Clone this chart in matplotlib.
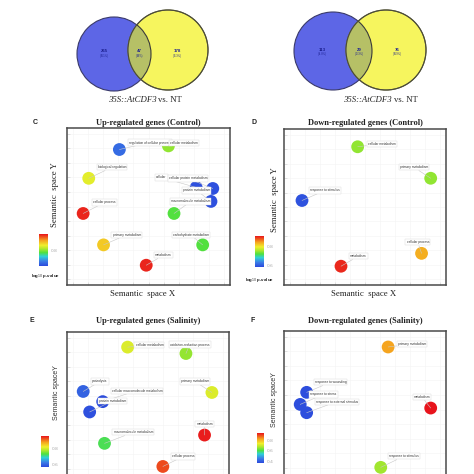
"""Venn diagrams and REVIGO-style semantic-space plots, rebuilt from values read off the figure."""

import matplotlib
matplotlib.use("Agg")
import matplotlib.pyplot as plt  # noqa: E402
from matplotlib.colors import LinearSegmentedColormap, Normalize  # noqa: E402
from matplotlib.cm import ScalarMappable  # noqa: E402
from matplotlib.patches import Circle  # noqa: E402

DPI = 100
W = H = 474

# Venn counts (only, shared, only)
VENN_LEFT = [265, 47, 178]
VENN_RIGHT = [113, 29, 76]

# panel C: Up-regulated genes (Control)
C_TERMS = ["regulation of cellular process", "cellular metabolism", "biological regulation",
           "cellular", "cellular protein metabolism", "protein metabolism",
           "macromolecule metabolism", "cellular process", "primary metabolism",
           "carbohydrate metabolism", "metabolism"]
C_X = [3.07, 6.32, 1.04, 8.16, 9.26, 9.14, 6.69, 0.67, 2.02, 8.59, 4.85]
C_Y = [8.92, 9.17, 6.94, 6.31, 6.24, 5.35, 4.52, 4.52, 2.36, 2.36, 0.96]
C_P = [0.64, 0.80, 0.85, 0.61, 0.61, 0.61, 0.77, 0.99, 0.89, 0.77, 0.99]

# panel D: Down-regulated genes (Control)
D_TERMS = ["cellular metabolism", "primary metabolism", "response to stimulus",
           "cellular process", "metabolism"]
D_X = [4.51, 9.38, 0.80, 8.77, 3.40]
D_Y = [9.17, 6.99, 5.45, 1.79, 0.90]
D_P = [0.75, 0.75, 0.59, 0.845, 0.91]

# panel E: Up-regulated genes (Salinity)
E_TERMS = ["cellular metabolism", "oxidation-reduction process", "proteolysis",
           "primary metabolism", "cellular macromolecule metabolism", "protein metabolism",
           "metabolism", "macromolecule metabolism", "cellular process"]
E_X = [3.64, 7.53, 0.68, 9.26, 1.98, 1.11, 8.77, 2.10, 5.99]
E_Y = [9.36, 8.92, 6.31, 6.24, 5.61, 4.90, 3.31, 2.74, 1.15]
E_P = [0.81, 0.77, 0.605, 0.81, 0.58, 0.585, 0.955, 0.73, 0.93]

# panel F: Down-regulated genes (Salinity)
F_TERMS = ["primary metabolism", "response to wounding", "response to stress",
           "response to external stimulus", "metabolism", "response to stimulus"]
F_X = [6.54, 1.11, 0.68, 1.11, 9.38, 6.05]
F_Y = [9.30, 6.18, 5.35, 4.78, 5.10, 1.02]
F_P = [0.82, 0.39, 0.39, 0.39, 0.93, 0.666]

# label offsets (pixels) from bubble centre to the left/centre of the label box
C_OFF = [(10, 7), (2, 3), (9, 11), (-40, 10), (-44, 10), (-28, 11), (-3, 12),
         (10, 11), (9, 10), (-30, 10), (9, 10)]
D_OFF = [(10, 3), (-31, 11), (8, 10), (-15, 11), (9, 10)]
E_OFF = [(8, 2), (-16, 9), (9, 10), (-31, 11), (9, 11), (9, 11), (-8, 11), (9, 11), (9, 10)]
F_OFF = [(10, 3), (8, 10), (10, 10), (9, 11), (-17, 11), (8, 11)]

CMAP = LinearSegmentedColormap.from_list("revigo", [
    (0.0, "#2b48dc"), (0.15, "#3b7de6"), (0.3, "#2fd0d8"), (0.42, "#4fe040"),
    (0.55, "#b8e82a"), (0.65, "#f0ee2c"), (0.8, "#f5a41e"), (1.0, "#e8141c")])

SERIF = "Liberation Serif"
SANS = "Liberation Sans"


def px_axes(fig, left, top, right, bottom):
    return fig.add_axes([left / W, 1 - bottom / H, (right - left) / W, (bottom - top) / H])


def venn(fig, box, counts, circ_a, circ_b, caption_x):
    ax = px_axes(fig, *box)
    l, t, r, b = box
    ax.set_xlim(l, r)
    ax.set_ylim(b, t)
    ax.set_aspect("equal")
    ax.axis("off")
    total = sum(counts)
    (ax_, ay, ar), (bx, by, br) = circ_a, circ_b
    ax.add_patch(Circle((ax_, ay), ar, facecolor="#5d66e6", edgecolor="#3a3a6a", lw=0.8))
    ax.add_patch(Circle((bx, by), br, facecolor="#f6f55e", edgecolor="#6a6a3a", lw=0.8))
    # overlap region: blue circle clipped by yellow circle
    ov = Circle((ax_, ay), ar, facecolor="#b6c066", edgecolor="#3a3a3a", lw=0.8)
    ax.add_patch(ov)
    ov.set_clip_path(Circle((bx, by), br, transform=ax.transData))
    ax.add_patch(Circle((bx, by), br, facecolor="none", edgecolor="#4a4a3a", lw=0.8))
    xs = [(ax_ - ar + bx - br) / 2 + 2, (ax_ + ar + bx - br) / 2, (ax_ + ar + bx + br) / 2 - 2]
    ymid = (ay + by) / 2 + 1
    for x, n in zip(xs, counts):
        ax.text(x, ymid - 1.5, str(n), ha="center", va="center", fontsize=3.2,
                fontweight="bold", color="#1c2090", family=SANS)
        ax.text(x, ymid + 2.5, f"({100 * n / total:.1f}%)", ha="center", va="center",
                fontsize=1.8, color="#1c2090", family=SANS)
    ax.text(caption_x, 100, "35S::AtCDF3", ha="right", va="center", fontsize=6.3,
            style="italic", family=SERIF, color="#222")
    ax.text(caption_x + 1.5, 100, "vs. NT", ha="left", va="center", fontsize=6.3,
            family=SERIF, color="#222")


def semantic(fig, box, letter, title, terms, xs, ys, ps, offs, norm, ticks, cbox,
             ylabel, ylabel_sans, ylab_xy, xlab_xy, letter_xy, title_y, legend_xy):
    ax = px_axes(fig, *box)
    ax.set_xlim(-0.4, 10.4)
    ax.set_ylim(-0.4, 10.4)
    for s in ax.spines.values():
        s.set_color("#4a4a4a")
        s.set_linewidth(1.1)
    ax.set_xticks(range(0, 11))
    ax.set_yticks(range(0, 11))
    ax.tick_params(direction="in", length=2, color="#d6d6d6", labelbottom=False,
                   labelleft=False, width=0.5)
    ax.grid(True, color="#f4f4f4", lw=0.4)
    ax.set_axisbelow(True)
    ax.scatter(xs, ys, s=85, c=ps, cmap=CMAP, norm=norm, edgecolors="none", zorder=3)
    for t, x, y, (dx, dy) in zip(terms, xs, ys, offs):
        ax.annotate(t, (x, y), xytext=(dx, dy), textcoords="offset pixels",
                    ha="left", va="center", fontsize=2.3, family=SANS, color="#333",
                    bbox=dict(boxstyle="square,pad=0.35", fc="white", ec="#d8d8d8", lw=0.3),
                    arrowprops=dict(arrowstyle="-", color="#c8c8c8", lw=0.4,
                                    shrinkA=0, shrinkB=0), zorder=5)
    cx = (box[0] + box[2]) / 2
    fig.text(cx / W, 1 - title_y / H, title, ha="center", va="center", fontsize=6,
             fontweight="bold", family=SERIF, color="#222")
    fig.text(letter_xy[0] / W, 1 - letter_xy[1] / H, letter, ha="center", va="center",
             fontsize=5, fontweight="bold", family=SANS, color="#222")
    if ylabel_sans:
        fig.text(ylab_xy[0] / W, 1 - ylab_xy[1] / H, ylabel, rotation=90, ha="center",
                 va="center", fontsize=5, family=SANS, color="#333")
    else:
        fig.text(ylab_xy[0] / W, 1 - ylab_xy[1] / H, ylabel, rotation=90, ha="center",
                 va="center", fontsize=6.3, family=SERIF, color="#222")
    # the salinity panels are cropped at the bottom: no x label or legend caption visible
    if xlab_xy is not None:
        fig.text(xlab_xy[0] / W, 1 - xlab_xy[1] / H, "Semantic  space X", ha="center",
                 va="center", fontsize=6.3, family=SERIF, color="#222")
    cax = px_axes(fig, *cbox)
    cb = fig.colorbar(ScalarMappable(norm=norm, cmap=CMAP), cax=cax, ticks=ticks)
    cb.outline.set_visible(False)
    cax.tick_params(length=0, labelsize=3.2, labelcolor="#aaaaaa", pad=2)
    if legend_xy is not None:
        fig.text(legend_xy[0] / W, 1 - legend_xy[1] / H, r"log$_{10}$ p-value", ha="center",
                 va="center", fontsize=3.2, fontweight="bold", family=SANS, color="#222")


def main():
    fig = plt.figure(figsize=(W / DPI, H / DPI), dpi=DPI)
    fig.patch.set_facecolor("white")

    venn(fig, (0, 0, 237, 110), VENN_LEFT, (114, 54, 37), (168, 50, 40), 157)
    venn(fig, (237, 0, 474, 110), VENN_RIGHT, (333, 51, 39), (386, 50, 40), 392)

    semantic(fig, (67, 128, 230, 285), "C", "Up-regulated genes (Control)",
             C_TERMS, C_X, C_Y, C_P, C_OFF, Normalize(0.6, 1.0), [0.8],
             (39, 234, 48, 266), "Semantic  space Y", False, (55, 195), (143, 294),
             (35, 123), 123, (45, 276))
    semantic(fig, (284, 129, 446, 285), "D", "Down-regulated genes (Control)",
             D_TERMS, D_X, D_Y, D_P, D_OFF, Normalize(0.58, 0.92), [0.6, 0.8],
             (255, 236, 264, 267), "Semantic  space Y", False, (275, 200), (364, 294),
             (254, 123), 123, (259, 280))
    semantic(fig, (67, 332, 229, 489), "E", "Up-regulated genes (Salinity)",
             E_TERMS, E_X, E_Y, E_P, E_OFF, Normalize(0.575, 0.96), [0.6, 0.8],
             (41, 436, 49, 467), "Semantic spaceY", True, (57, 393), None,
             (32, 321), 321, None)
    semantic(fig, (284, 331, 446, 488), "F", "Down-regulated genes (Salinity)",
             F_TERMS, F_X, F_Y, F_P, F_OFF, Normalize(0.38, 0.93), [0.4, 0.6, 0.8],
             (257, 433, 264, 463), "Semantic spaceY", True, (274, 400), None,
             (253, 321), 321, None)

    fig.savefig("out.png", dpi=DPI)
    plt.close(fig)


if __name__ == "__main__":
    main()
